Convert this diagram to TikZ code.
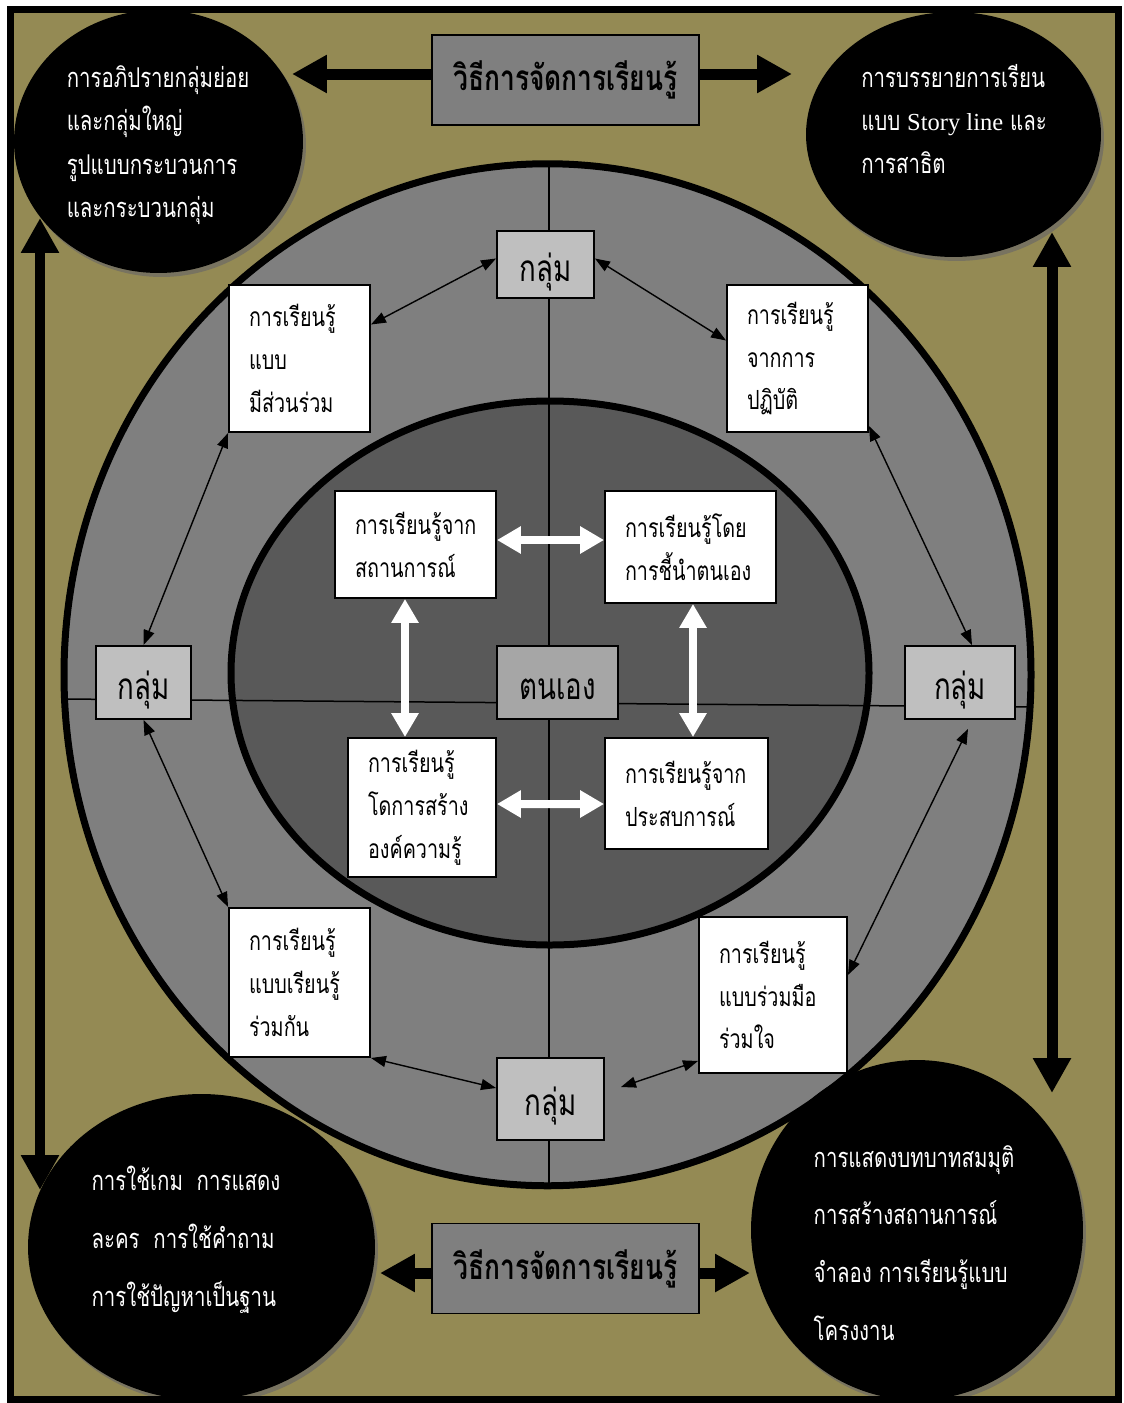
\documentclass[tikz,border=0pt]{standalone}
\usepackage{fontspec}
\setmainfont{Loma}[Script=Thai,FakeStretch=0.75]
\newfontfamily\latinfont{Liberation Serif}[Scale=0.9]
\usetikzlibrary{arrows.meta,calc,shadows,shapes.geometric}

\definecolor{olive}{RGB}{148,138,84}
\definecolor{ringgray}{RGB}{127,127,127}
\definecolor{coregray}{RGB}{89,89,89}
\definecolor{groupgray}{RGB}{191,191,191}
\definecolor{selfgray}{RGB}{166,166,166}
\definecolor{shade}{RGB}{120,115,96}

\tikzset{
  lesson/.style={draw,line width=1.1pt,fill=white,align=left,inner xsep=0.4cm,
    font=\fontsize{15}{24.4}\selectfont},
  grp/.style={draw,line width=1.1pt,fill=groupgray,text height=20.4pt,text depth=1.2pt,
    font=\fontsize{21}{24}\selectfont},
  method/.style={draw,line width=1.1pt,fill=ringgray,minimum width=5.34cm,minimum height=1.8cm,
    font=\bfseries\fontsize{20}{24}\selectfont},
  blob/.style={ellipse,fill=black,inner sep=0pt,
    drop shadow={shadow xshift=0.06cm,shadow yshift=-0.08cm,fill=shade,opacity=1}},
  blobtext/.style={text=white,align=left,font=\fontsize{15.5}{24.7}\selectfont},
  bigarrow/.style={line width=0.22cm,-{Triangle[length=0.7cm,width=0.72cm]}},
  bigboth/.style={line width=0.22cm,{Triangle[length=0.7cm,width=0.72cm]}-{Triangle[length=0.7cm,width=0.72cm]}},
  whitearrow/.style={white,line width=0.16cm,{Triangle[length=0.48cm,width=0.52cm]}-{Triangle[length=0.48cm,width=0.52cm]}},
  tie/.style={line width=0.8pt,{Triangle[length=0.3cm,width=0.22cm]}-{Triangle[length=0.3cm,width=0.22cm]}}
}

\begin{document}
\begin{tikzpicture}[x=0.02cm,y=-0.02cm]
\useasboundingbox (0,0) rectangle (1124,1403);
\fill[olive] (10.5,9.5) rectangle (1118.5,1399.5);

% rings
\draw[line width=0.14cm,fill=ringgray] (547.5,674.75) ellipse [x radius=483.5,y radius=511];
\draw[line width=0.14cm,fill=coregray] (550,673) ellipse [x radius=319,y radius=272];
\draw[line width=0.03cm] (549,164) -- (549,1186);
\draw[line width=0.03cm] (62,699) -- (1032,707);

% corner methods
\node[blob,minimum width=5.78cm,minimum height=5.26cm] (tlb) at (158.5,141.5) {};
\node[blob,minimum width=5.9cm,minimum height=4.9cm] (trb) at (953.5,134.5) {};
\node[blob,minimum width=6.94cm,minimum height=6.12cm] (blb) at (201.5,1247) {};
\node[blob,minimum width=6.64cm,minimum height=6.8cm] (brb) at (917,1230) {};
\node[blobtext] (tlt) at (158,145) {การอภิปรายกลุ่มย่อย\\และกลุ่มใหญ่\\รูปแบบกระบวนการ\\และกระบวนกลุ่ม};
\node[blobtext] (trt) at (954,119) {การบรรยายการเรียน\\แบบ {\latinfont Story line} และ\\การสาธิต};
\node[blobtext,font=\fontsize{15.5}{32.9}\selectfont] (blt) at (186,1240)
  {การใช้เกม\ \ การแสดง\\ละคร\ \ การใช้คำถาม\\การใช้ปัญหาเป็นฐาน};
\node[blobtext,font=\fontsize{15.5}{32.9}\selectfont] (brt) at (914,1243)
  {การแสดงบทบาทสมมุติ\\การสร้างสถานการณ์\\จำลอง การเรียนรู้แบบ\\โครงงาน};

\draw[line width=0.14cm] (10.5,9.5) rectangle (1118.5,1399.5);

% titles and big arrows
\node[method] (mtop) at (565.5,80) {วิธีการจัดการเรียนรู้};
\node[method] (mbot) at (565.5,1268.5) {วิธีการจัดการเรียนรู้};
\coordinate (tlarr) at (292,74);
\coordinate (trarr) at (792,74);
\coordinate (blarr) at (380,1273);
\coordinate (brarr) at (750,1273);
\coordinate (lup) at (40,218);
\coordinate (ldown) at (40,1190);
\coordinate (rup) at (1052,232);
\coordinate (rdown) at (1052,1093);
\draw[bigarrow] (mtop.west|-tlarr) -- (tlarr);
\draw[bigarrow] (mtop.east|-trarr) -- (trarr);
\draw[bigarrow] (mbot.west|-blarr) -- (blarr);
\draw[bigarrow] (mbot.east|-brarr) -- (brarr);
\draw[bigboth] (lup) -- (ldown);
\draw[bigboth] (rup) -- (rdown);

% groups and self
\node[grp,minimum width=1.94cm,minimum height=1.34cm] (gtop) at (545.5,264.5) {กลุ่ม};
\node[grp,minimum width=1.9cm,minimum height=1.46cm] (gleft) at (143.5,682.5) {กลุ่ม};
\node[grp,minimum width=2.2cm,minimum height=1.46cm] (gright) at (960,682.5) {กลุ่ม};
\node[grp,minimum width=2.14cm,minimum height=1.64cm] (gbot) at (550.5,1099) {กลุ่ม};
\node[grp,fill=selfgray,minimum width=2.42cm,minimum height=1.46cm] (self) at (557.5,682.5) {ตนเอง};

% outer ring lessons
\node[lesson,text width=2.02cm,minimum height=2.94cm] (part) at (299.5,358.5) {การเรียนรู้\\แบบ\\มีส่วนร่วม};
\node[lesson,text width=2.02cm,minimum height=2.94cm] (prac) at (797.5,358.5) {การเรียนรู้\\จากการ\\ปฏิบัติ};
\node[lesson,text width=2.02cm,minimum height=2.98cm] (share) at (299.5,982.5) {การเรียนรู้\\แบบเรียนรู้\\ร่วมกัน};
\node[lesson,text width=2.16cm,minimum height=3.12cm] (coop) at (773,995) {การเรียนรู้\\แบบร่วมมือ\\ร่วมใจ};

% inner lessons
\node[lesson,text width=2.42cm,minimum height=2.14cm] (sit) at (415.5,544.5) {การเรียนรู้จาก\\สถานการณ์};
\node[lesson,text width=2.62cm,minimum height=2.24cm] (sdir) at (690.5,547) {การเรียนรู้โดย\\การชี้นำตนเอง};
\node[lesson,text width=2.16cm,minimum height=2.78cm] (cons) at (422,807.5) {การเรียนรู้\\โดการสร้าง\\องค์ความรู้};
\node[lesson,text width=2.46cm,minimum height=2.22cm] (expe) at (686.5,793.5) {การเรียนรู้จาก\\ประสบการณ์};

\draw[whitearrow] ($(sit.east)+(0,-4.5)$) -- ($(sdir.west)+(0,-7)$);
\draw[whitearrow] ($(cons.east)+(0,-3.5)$) -- ($(expe.west)+(0,10.5)$);
\draw[whitearrow] ($(sit.south)+(-10.5,0)$) -- ($(cons.north)+(-17,0)$);
\draw[whitearrow] ($(sdir.south)+(2.5,0)$) -- ($(expe.north)+(6.5,0)$);

\draw[tie] ($(part.east)+(0,-34)$) -- ($(gtop.west)+(0,-6)$);
\draw[tie] ($(gtop.east)+(0,-6)$) -- ($(prac.west)+(0,-18)$);
\draw[tie] (part.south west) -- (gleft.north);
\draw[tie] (gleft.south) -- (share.north west);
\draw[tie] (share.south east) -- ($(gbot.west)+(0,-11)$);
\draw[tie] ($(gbot.east)+(16,-12)$) -- ($(coop.south west)+(0,-13)$);
\draw[tie] ($(coop.east)+(0,-20)$) -- ($(gright.south)+(8,9)$);
\draw[tie] ($(prac.south east)+(0,-7)$) -- ($(gright.north)+(12,0)$);
\end{tikzpicture}
\end{document}
